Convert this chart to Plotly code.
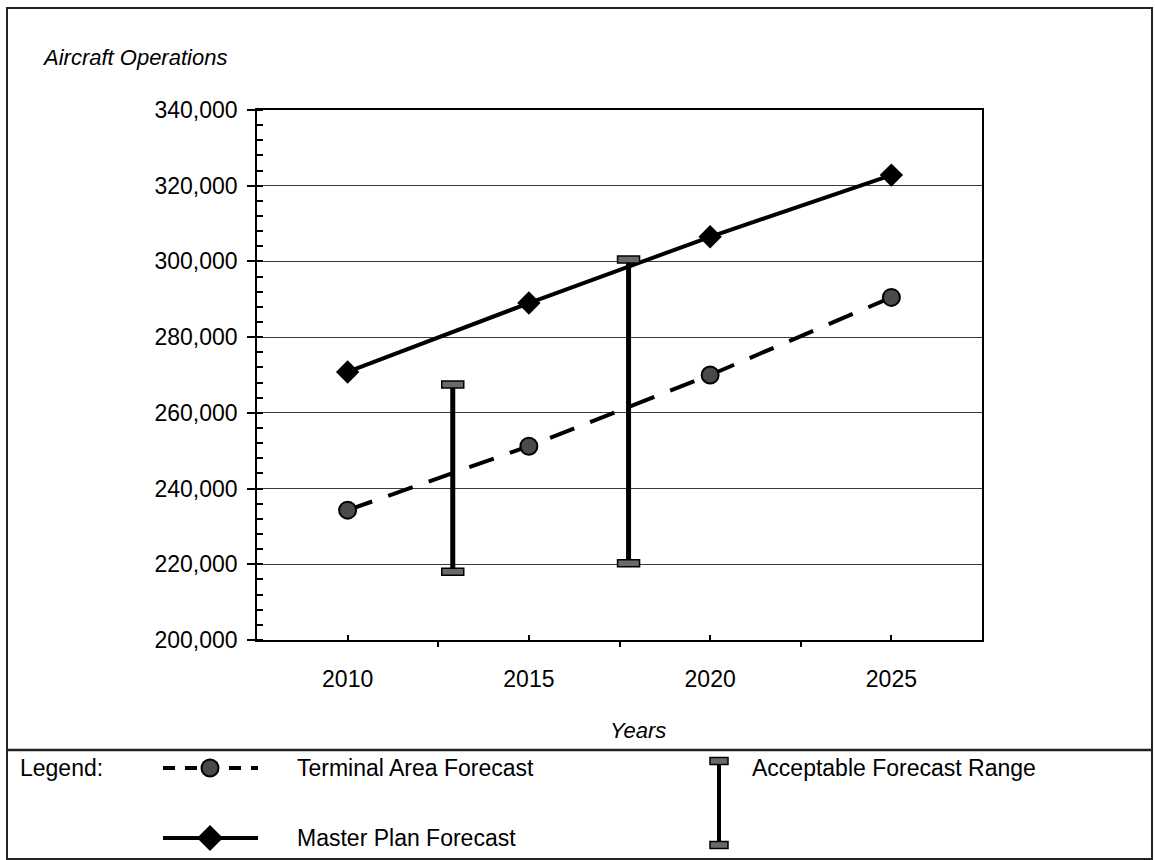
import plotly.graph_objects as go

# Forecast years and aircraft operations
years = [2010, 2015, 2020, 2025]
year_labels = ["2010", "2015", "2020", "2025"]
terminal_area = [234300, 251200, 270000, 290500]
master_plan = [270800, 289000, 306500, 322800]

# Acceptable forecast range bars
range_years = [2012.9, 2017.75]
range_low = [218000, 220300]
range_high = [267500, 300500]

y_ticks = [200000, 220000, 240000, 260000, 280000, 300000, 320000, 340000]

W, H = 1155, 860
NARROW = "Liberation Sans Narrow, Arial Narrow, Liberation Sans, Arial"
REGULAR = "Liberation Sans, Arial"


def fx(px):
    return px / W


def fy(py):
    return 1 - py / H


def cap(xref, yref, x, y, half_w=11, half_h=3.5):
    """Small filled rectangle used as the end cap of a range bar."""
    return dict(type="rect", xref=xref, yref=yref,
                xsizemode="pixel", ysizemode="pixel",
                xanchor=x, yanchor=y,
                x0=-half_w, x1=half_w, y0=-half_h, y1=half_h,
                fillcolor="#6a6a6a", line=dict(color="black", width=1.5),
                layer="above")


fig = go.Figure()

# range bars: vertical stems drawn as error bars around the midpoint
mid = [(lo + hi) / 2 for lo, hi in zip(range_low, range_high)]
fig.add_trace(go.Scatter(
    x=range_years, y=mid, mode="markers",
    marker=dict(size=1, color="rgba(0,0,0,0)"),
    error_y=dict(type="data", symmetric=False,
                 array=[hi - m for hi, m in zip(range_high, mid)],
                 arrayminus=[m - lo for lo, m in zip(range_low, mid)],
                 color="black", thickness=5, width=0),
    hoverinfo="skip",
))

fig.add_trace(go.Scatter(
    x=years, y=terminal_area, mode="lines+markers", name="Terminal Area Forecast",
    line=dict(color="black", width=4, dash="26px,17px"),
    marker=dict(symbol="circle", size=17, color="#4a4a4a",
                line=dict(color="black", width=2)),
))

fig.add_trace(go.Scatter(
    x=years, y=master_plan, mode="lines+markers", name="Master Plan Forecast",
    line=dict(color="black", width=4),
    marker=dict(symbol="diamond", size=18, color="black"),
))

# ---- legend glyphs on a pixel-space overlay axis ----
lx = dict(xaxis="x2", yaxis="y2", hoverinfo="skip")
fig.add_trace(go.Scatter(x=[163, 258], y=[768, 768], mode="lines",
                         line=dict(color="black", width=4, dash="12px,10px"), **lx))
fig.add_trace(go.Scatter(x=[210], y=[768], mode="markers",
                         marker=dict(symbol="circle", size=17, color="#4a4a4a",
                                     line=dict(color="black", width=2)), **lx))
fig.add_trace(go.Scatter(x=[163, 258], y=[838, 838], mode="lines",
                         line=dict(color="black", width=4), **lx))
fig.add_trace(go.Scatter(x=[210], y=[838], mode="markers",
                         marker=dict(symbol="diamond", size=20, color="black"), **lx))
fig.add_trace(go.Scatter(x=[719, 719], y=[761, 845], mode="lines",
                         line=dict(color="black", width=4), **lx))

shapes = [
    # outer frame
    dict(type="rect", xref="paper", yref="paper",
         x0=fx(7), x1=fx(1152), y0=fy(859), y1=fy(8),
         line=dict(color="#222", width=2)),
    # separator above legend
    dict(type="line", xref="paper", yref="paper",
         x0=fx(7), x1=fx(1152), y0=fy(750), y1=fy(750),
         line=dict(color="#222", width=2.5)),
]
for xr, lo, hi in zip(range_years, range_low, range_high):
    shapes.append(cap("x", "y", xr, lo))
    shapes.append(cap("x", "y", xr, hi))
shapes.append(cap("x2", "y2", 719, 761, half_w=9, half_h=3.5))
shapes.append(cap("x2", "y2", 719, 845, half_w=9, half_h=3.5))

axis_font = dict(family=REGULAR, size=23, color="black")
label_font = dict(family=NARROW, size=23, color="black")
italic_font = dict(family=NARROW, size=22, color="black")

fig.update_layout(
    width=W, height=H,
    margin=dict(l=0, r=0, t=0, b=0),
    paper_bgcolor="white", plot_bgcolor="rgba(0,0,0,0)",
    showlegend=False,
    xaxis=dict(
        domain=[fx(257), fx(982)], range=[2007.5, 2027.5],
        tickmode="array", tickvals=years, ticktext=year_labels,
        ticks="inside", ticklen=5, tickwidth=1.5, tickcolor="black",
        ticklabelstandoff=18,
        showline=True, linecolor="black", linewidth=1.5, mirror=True,
        showgrid=False, zeroline=False, tickfont=axis_font,
        minor=dict(tickmode="array", tickvals=[2012.5, 2017.5, 2022.5],
                   ticks="outside", ticklen=5, tickcolor="black", showgrid=False),
        automargin=False,
    ),
    yaxis=dict(
        domain=[fy(640), fy(110)], range=[200000, 340000],
        tickmode="array", tickvals=y_ticks, tickformat=",",
        ticks="outside", ticklen=8, tickwidth=1.5, tickcolor="black",
        ticklabelstandoff=5,
        showline=True, linecolor="black", linewidth=1.5, mirror=True,
        showgrid=True, gridcolor="#3a3a3a", gridwidth=1.3,
        zeroline=False, tickfont=axis_font,
        minor=dict(dtick=4000, ticks="inside", ticklen=6, tickcolor="black",
                   showgrid=False),
        automargin=False,
    ),
    xaxis2=dict(domain=[0, 1], range=[0, W], visible=False, anchor="y2",
                fixedrange=True),
    yaxis2=dict(domain=[0, 1], range=[H, 0], visible=False, anchor="x2",
                fixedrange=True),
    shapes=shapes,
    annotations=[
        dict(text="<i>Aircraft Operations</i>", x=fx(40), y=fy(58),
             xref="paper", yref="paper", xanchor="left", yanchor="middle",
             showarrow=False, font=italic_font),
        dict(text="<i>Years</i>", x=fx(638), y=fy(730),
             xref="paper", yref="paper", xanchor="center", yanchor="middle",
             showarrow=False, font=italic_font),
        dict(text="Legend:", x=fx(18), y=fy(768),
             xref="paper", yref="paper", xanchor="left", yanchor="middle",
             showarrow=False, font=label_font),
        dict(text="Terminal Area Forecast", x=fx(295), y=fy(768),
             xref="paper", yref="paper", xanchor="left", yanchor="middle",
             showarrow=False, font=label_font),
        dict(text="Master Plan Forecast", x=fx(295), y=fy(838),
             xref="paper", yref="paper", xanchor="left", yanchor="middle",
             showarrow=False, font=label_font),
        dict(text="Acceptable Forecast Range", x=fx(750), y=fy(768),
             xref="paper", yref="paper", xanchor="left", yanchor="middle",
             showarrow=False, font=label_font),
    ],
)

fig.write_html("out.html")
